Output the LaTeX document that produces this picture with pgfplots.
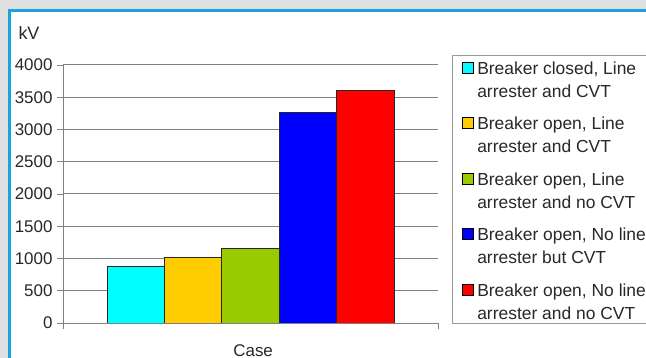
\documentclass[border=0pt]{standalone}
\usepackage{pgfplots}
\pgfplotsset{compat=1.18}
\usepackage{fontspec}
\setmainfont{Liberation Sans}
\definecolor{bgframe}{RGB}{224,224,224}
\definecolor{panelblue}{RGB}{27,161,226}
\definecolor{barcyan}{RGB}{0,255,255}
\definecolor{barorange}{RGB}{255,204,0}
\definecolor{bargreen}{RGB}{153,204,0}
\definecolor{barblue}{RGB}{0,0,255}
\definecolor{barred}{RGB}{255,0,0}
\definecolor{gridgray}{RGB}{128,128,128}
\definecolor{txt}{RGB}{40,40,40}
\newcommand{\legtwo}[2]{\parbox[b]{175bp}{\strut #1\\\strut #2}}
\pgfplotsset{
  sqlegend/.style={legend image code/.code={\draw[##1, line width=0.8bp, draw=black] (0bp,5.5bp) rectangle (11bp,16.5bp);}},
}
\begin{document}
\begin{tikzpicture}
\useasboundingbox (0,0) rectangle (646bp,358bp);
\clip (0,0) rectangle (646bp,358bp);
\fill[bgframe] (0,0) rectangle (646bp,358bp);
\draw[panelblue, line width=3bp, fill=white] (9bp,-20bp) rectangle (700bp,347bp);
\begin{axis}[
  at={(63bp,35bp)}, anchor=south west,
  scale only axis, width=375bp, height=258bp,
  ybar=0pt, bar width=57.4bp,
  xmin=-1, xmax=1, ymin=0, ymax=4000,
  ytick distance=500,
  xtick={-1,1}, xticklabels={,},
  axis x line*=bottom, axis y line*=left,
  axis line style={gridgray, line width=1bp, -},
  tick align=outside, major tick length=6bp,
  tick style={gridgray, line width=0.8bp},
  ymajorgrids, grid style={gridgray, line width=1bp},
  /pgf/number format/assume math mode=true,
  /pgf/number format/1000 sep={},
  scaled y ticks=false,
  yticklabel style={font=\fontsize{17}{17}\selectfont, text=txt, xshift=-1bp},
  xlabel=Case, ylabel=kV,
  every axis x label/.style={at={(axis description cs:0.507,-0.1085)}, anchor=center, font=\fontsize{17}{17}\selectfont, text=txt},
  every axis y label/.style={at={(axis description cs:-0.0907,1.124)}, anchor=center, font=\fontsize{18}{18}\selectfont, text=txt},
  legend style={at={(axis description cs:1.0373,1.0388)}, anchor=north west,
    draw=gridgray!80, line width=1bp, font=\fontsize{17.5}{23}\selectfont, text=txt,
    row sep=15bp, inner xsep=10bp, inner ysep=3bp,
    nodes={inner xsep=3bp, inner ysep=0bp}},
  legend cell align=left,
]
\addplot[fill=barcyan, draw=black!85, line width=0.8bp, sqlegend] coordinates {(0,870)};
\addplot[fill=barorange, draw=black!85, line width=0.8bp, sqlegend] coordinates {(0,1011)};
\addplot[fill=bargreen, draw=black!85, line width=0.8bp, sqlegend] coordinates {(0,1155)};
\addplot[fill=barblue, draw=black!85, line width=0.8bp, sqlegend] coordinates {(0,3267)};
\addplot[fill=barred, draw=black!85, line width=0.8bp, sqlegend] coordinates {(0,3602)};
\legend{\legtwo{Breaker closed, Line}{arrester and CVT}, \legtwo{Breaker open, Line}{arrester and CVT}, \legtwo{Breaker open, Line}{arrester and no CVT}, \legtwo{Breaker open, No line}{arrester but CVT}, \legtwo{Breaker open, No line}{arrester and no CVT}}
\end{axis}
\end{tikzpicture}
\end{document}
